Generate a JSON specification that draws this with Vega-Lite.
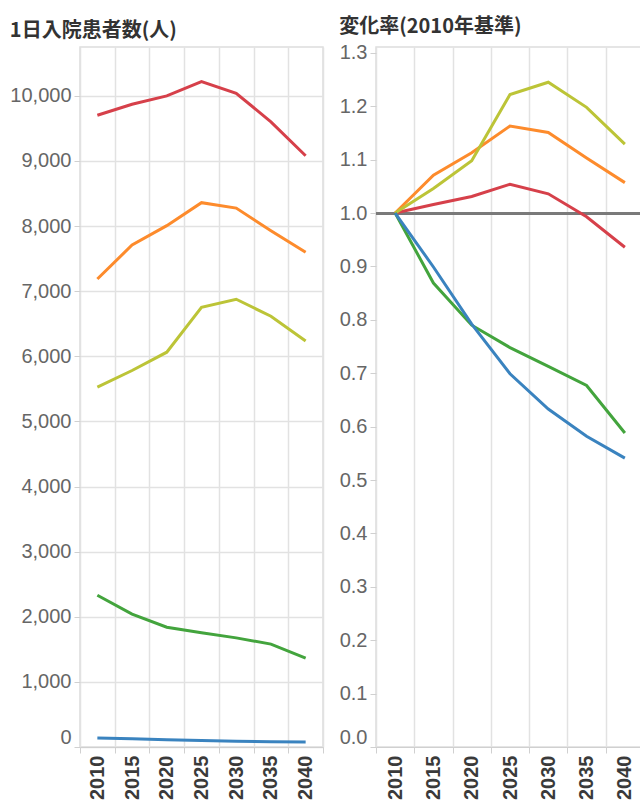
{
  "$schema": "https://vega.github.io/schema/vega-lite/v6.json",
  "padding": {"left": 9, "top": 16, "right": 0, "bottom": 0},
  "background": "white",
  "spacing": 13,
  "config": {
    "view": {"stroke": "#dddddd", "strokeWidth": 1.5},
    "font": "Liberation Sans",
    "axis": {
      "gridColor": "#e2e2e2",
      "gridWidth": 1.5,
      "tickColor": "#d0d0d0",
      "domainColor": "#d0d0d0",
      "labelFont": "Liberation Sans",
      "labelFontSize": 20,
      "labelColor": "#666666",
      "tickSize": 6,
      "labelPadding": 3,
      "title": null
    },
    "title": {
      "font": "Noto Sans CJK JP",
      "fontSize": 20,
      "fontWeight": "bold",
      "color": "#333333",
      "anchor": "start",
      "frame": "bounds",
      "offset": 6
    }
  },
  "datasets": {
    "count": [
      {"s": "区分1", "year": "2010", "v": 9702},
      {"s": "区分1", "year": "2015", "v": 9871},
      {"s": "区分1", "year": "2020", "v": 10000},
      {"s": "区分1", "year": "2025", "v": 10219},
      {"s": "区分1", "year": "2030", "v": 10040},
      {"s": "区分1", "year": "2035", "v": 9601},
      {"s": "区分1", "year": "2040", "v": 9080},
      {"s": "区分2", "year": "2010", "v": 7187},
      {"s": "区分2", "year": "2015", "v": 7709},
      {"s": "区分2", "year": "2020", "v": 8006},
      {"s": "区分2", "year": "2025", "v": 8359},
      {"s": "区分2", "year": "2030", "v": 8276},
      {"s": "区分2", "year": "2035", "v": 7929},
      {"s": "区分2", "year": "2040", "v": 7597},
      {"s": "区分3", "year": "2010", "v": 5526},
      {"s": "区分3", "year": "2015", "v": 5782},
      {"s": "区分3", "year": "2020", "v": 6063},
      {"s": "区分3", "year": "2025", "v": 6753},
      {"s": "区分3", "year": "2030", "v": 6876},
      {"s": "区分3", "year": "2035", "v": 6615},
      {"s": "区分3", "year": "2040", "v": 6236},
      {"s": "区分4", "year": "2010", "v": 2331},
      {"s": "区分4", "year": "2015", "v": 2040},
      {"s": "区分4", "year": "2020", "v": 1840},
      {"s": "区分4", "year": "2025", "v": 1753},
      {"s": "区分4", "year": "2030", "v": 1676},
      {"s": "区分4", "year": "2035", "v": 1580},
      {"s": "区分4", "year": "2040", "v": 1365},
      {"s": "区分5", "year": "2010", "v": 140},
      {"s": "区分5", "year": "2015", "v": 126},
      {"s": "区分5", "year": "2020", "v": 111},
      {"s": "区分5", "year": "2025", "v": 98},
      {"s": "区分5", "year": "2030", "v": 88},
      {"s": "区分5", "year": "2035", "v": 81},
      {"s": "区分5", "year": "2040", "v": 76}
    ],
    "ratio": [
      {"s": "区分1", "year": "2010", "r": 1.0},
      {"s": "区分1", "year": "2015", "r": 1.016},
      {"s": "区分1", "year": "2020", "r": 1.031},
      {"s": "区分1", "year": "2025", "r": 1.054},
      {"s": "区分1", "year": "2030", "r": 1.036},
      {"s": "区分1", "year": "2035", "r": 0.993},
      {"s": "区分1", "year": "2040", "r": 0.936},
      {"s": "区分2", "year": "2010", "r": 1.0},
      {"s": "区分2", "year": "2015", "r": 1.071},
      {"s": "区分2", "year": "2020", "r": 1.113},
      {"s": "区分2", "year": "2025", "r": 1.163},
      {"s": "区分2", "year": "2030", "r": 1.151},
      {"s": "区分2", "year": "2035", "r": 1.103},
      {"s": "区分2", "year": "2040", "r": 1.057},
      {"s": "区分3", "year": "2010", "r": 1.0},
      {"s": "区分3", "year": "2015", "r": 1.046},
      {"s": "区分3", "year": "2020", "r": 1.098},
      {"s": "区分3", "year": "2025", "r": 1.222},
      {"s": "区分3", "year": "2030", "r": 1.245},
      {"s": "区分3", "year": "2035", "r": 1.198},
      {"s": "区分3", "year": "2040", "r": 1.129},
      {"s": "区分4", "year": "2010", "r": 1.0},
      {"s": "区分4", "year": "2015", "r": 0.869},
      {"s": "区分4", "year": "2020", "r": 0.79},
      {"s": "区分4", "year": "2025", "r": 0.748},
      {"s": "区分4", "year": "2030", "r": 0.713},
      {"s": "区分4", "year": "2035", "r": 0.677},
      {"s": "区分4", "year": "2040", "r": 0.588},
      {"s": "区分5", "year": "2010", "r": 1.0},
      {"s": "区分5", "year": "2015", "r": 0.899},
      {"s": "区分5", "year": "2020", "r": 0.792},
      {"s": "区分5", "year": "2025", "r": 0.699},
      {"s": "区分5", "year": "2030", "r": 0.633},
      {"s": "区分5", "year": "2035", "r": 0.582},
      {"s": "区分5", "year": "2040", "r": 0.541}
    ]
  },
  "hconcat": [
    {
      "width": 243,
      "height": 700,
      "title": "1日入院患者数(人)",
      "data": {"name": "count"},
      "mark": {"type": "line", "strokeWidth": 3},
      "encoding": {
        "x": {
          "field": "year",
          "type": "ordinal",
          "bandPosition": 0.5,
          "scale": {"type": "band", "paddingInner": 0, "paddingOuter": 0},
          "axis": {
            "tickBand": "extent",
            "labelAngle": -90,
            "labelFontWeight": "bold",
            "labelColor": "#3a3a3a",
            "labelPadding": 2,
            "grid": true
          }
        },
        "y": {
          "field": "v",
          "type": "quantitative",
          "scale": {"domain": [0, 10750], "nice": false, "zero": false},
          "axis": {
            "values": [0, 1000, 2000, 3000, 4000, 5000, 6000, 7000, 8000, 9000, 10000],
            "format": ",.0f",
            "labelFlush": true,
            "domain": false
          }
        },
        "color": {
          "field": "s",
          "type": "nominal",
          "scale": {
            "domain": ["区分1", "区分2", "区分3", "区分4", "区分5"],
            "range": ["#d6404a", "#fd8b2c", "#bcc437", "#43a43d", "#3a83bf"]
          },
          "legend": null
        },
        "detail": {"field": "s"}
      }
    },
    {
      "width": 268,
      "height": 700,
      "title": "変化率(2010年基準)",
      "data": {"name": "ratio"},
      "layer": [
        {
          "mark": {"type": "rule", "color": "#7a7a7a", "strokeWidth": 2.2},
          "encoding": {"y": {"datum": 1}}
        },
        {
          "mark": {"type": "line", "strokeWidth": 3},
          "encoding": {
            "x": {
              "field": "year",
              "type": "ordinal",
              "bandPosition": 0.5,
              "scale": {"type": "band", "paddingInner": 0, "paddingOuter": 0},
              "axis": {
                "tickBand": "extent",
                "labelAngle": -90,
                "labelFontWeight": "bold",
                "labelColor": "#3a3a3a",
                "labelPadding": 2,
                "grid": true
              }
            },
            "y": {
              "field": "r",
              "type": "quantitative",
              "scale": {"domain": [0, 1.311], "nice": false, "zero": false},
              "axis": {
                "values": [0, 0.1, 0.2, 0.3, 0.4, 0.5, 0.6, 0.7, 0.8, 0.9, 1.0, 1.1, 1.2, 1.3],
                "format": ".1f",
                "labelFlush": true,
                "domain": false
              }
            },
            "color": {
              "field": "s",
              "type": "nominal",
              "scale": {
                "domain": ["区分1", "区分2", "区分3", "区分4", "区分5"],
                "range": ["#d6404a", "#fd8b2c", "#bcc437", "#43a43d", "#3a83bf"]
              },
              "legend": null
            }
          }
        }
      ]
    }
  ]
}
